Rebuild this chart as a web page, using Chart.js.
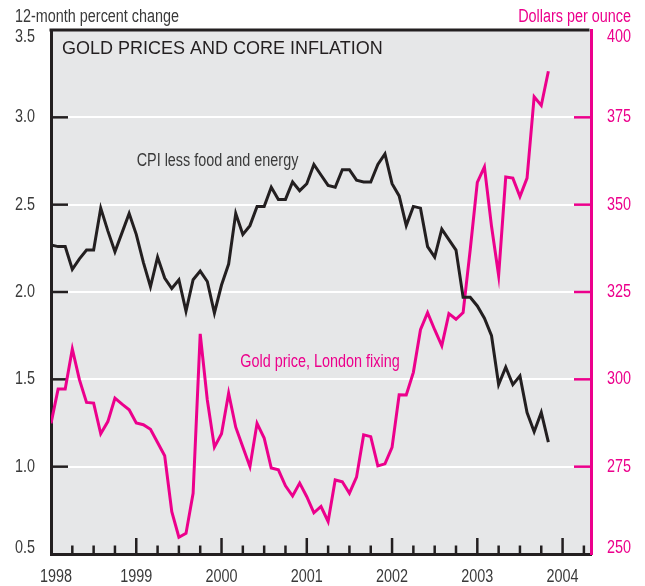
<!DOCTYPE html>
<html><head><meta charset="utf-8">
<script src="https://cdn.jsdelivr.net/npm/chart.js@4.4.0/dist/chart.umd.min.js"></script>
<style>html,body{margin:0;padding:0;background:#fff;}canvas{display:block;}</style>
</head><body>
<canvas id="c" width="645" height="586"></canvas>
<script>
// ---- data ----
const startYear = 1998;                 // first month = Jan 1998
const axisEndMonth = 76;                // axis runs to ~May 2004
const yearTicks = [1998, 1999, 2000, 2001, 2002, 2003, 2004];
const cpiTicks = [0.5, 1.0, 1.5, 2.0, 2.5, 3.0, 3.5];
const goldTicks = [250, 275, 300, 325, 350, 375, 400];

// CPI less food and energy, 12-month percent change, monthly Jan 1998 - Nov 2003
const cpi = [
  2.27, 2.26, 2.26, 2.13, 2.19, 2.24, 2.24, 2.48, 2.35, 2.23, 2.34, 2.45,
  2.33, 2.17, 2.03, 2.20, 2.08, 2.02, 2.07, 1.89, 2.07, 2.12, 2.06, 1.88,
  2.04, 2.16, 2.45, 2.33, 2.38, 2.49, 2.49, 2.60, 2.53, 2.53, 2.63, 2.58,
  2.62, 2.73, 2.67, 2.61, 2.60, 2.70, 2.70, 2.64, 2.63, 2.63, 2.73, 2.79,
  2.62, 2.55, 2.38, 2.49, 2.48, 2.26, 2.20, 2.36, 2.30, 2.24, 1.97, 1.97,
  1.92, 1.85, 1.75, 1.47, 1.57, 1.47, 1.52, 1.31, 1.20, 1.31, 1.14
];

// Gold price, London fixing, dollars per ounce, monthly Jan 1998 - Nov 2003
const gold = [
  287.4, 297.2, 297.2, 308.7, 299.9, 293.4, 293.2, 284.4, 287.9, 294.6, 292.9, 291.3,
  287.5, 287.0, 285.7, 281.9, 278.1, 262.1, 254.8, 255.9, 267.4, 313.0, 294.1, 280.6,
  284.4, 296.0, 286.3, 280.6, 275.0, 287.4, 283.2, 274.6, 274.1, 269.5, 266.6, 270.3,
  266.4, 261.8, 263.6, 259.3, 271.2, 270.7, 267.4, 272.0, 284.1, 283.6, 275.2, 275.8,
  280.5, 295.6, 295.5, 302.0, 314.2, 319.1, 314.2, 309.6, 318.8, 317.2, 319.1, 337.1,
  356.4, 360.8, 343.8, 329.7, 357.9, 357.6, 352.3, 357.6, 380.9, 378.4, 388.2
];

// ---- style ----
const MAG = '#ec008c', DARK = '#231f20', TXT = '#3a3a3a', BG = '#e6e7e8';
const REG = '"Liberation Sans", Arial, sans-serif';
const NARROW_SCALE = 0.8;   // condenses Liberation Sans to a narrow face

const toPoints = arr => arr.map((v, i) => ({ x: i, y: v }));

function narrowText(ctx, s, x, y, align, baseline) {
  ctx.save();
  ctx.translate(x, y);
  ctx.scale(NARROW_SCALE, 1);
  ctx.textAlign = align;
  ctx.textBaseline = baseline || 'alphabetic';
  ctx.fillText(s, 0, 0);
  ctx.restore();
}

const deco = {
  id: 'deco',
  beforeDraw(chart) {
    const { ctx, chartArea: a } = chart;
    ctx.save();
    ctx.fillStyle = BG;
    ctx.fillRect(a.left, a.top, a.right - a.left, a.bottom - a.top);
    ctx.restore();
  },
  beforeDatasetsDraw(chart) {
    const { ctx, chartArea: a, scales } = chart;
    ctx.save();
    ctx.lineWidth = 2.5;
    ctx.lineCap = 'butt';
    ctx.strokeStyle = DARK;
    cpiTicks.slice(1, -1).forEach(v => {
      const y = scales.y.getPixelForValue(v);
      ctx.beginPath(); ctx.moveTo(a.left, y); ctx.lineTo(a.left + 17, y); ctx.stroke();
    });
    ctx.strokeStyle = MAG;
    goldTicks.slice(1, -1).forEach(v => {
      const y = scales.y2.getPixelForValue(v);
      ctx.beginPath(); ctx.moveTo(a.right - 17, y); ctx.lineTo(a.right, y); ctx.stroke();
    });
    ctx.strokeStyle = DARK;
    for (let m = 3; m < axisEndMonth; m += 3) {
      const x = scales.x.getPixelForValue(m);
      const len = (m % 12 === 0) ? 16 : 8.5;
      ctx.beginPath(); ctx.moveTo(x, a.bottom); ctx.lineTo(x, a.bottom - len); ctx.stroke();
    }
    ctx.restore();
  },
  afterDraw(chart) {
    const { ctx, chartArea: a, scales } = chart;
    ctx.save();
    // top frame line
    ctx.strokeStyle = DARK; ctx.lineWidth = 3;
    ctx.beginPath(); ctx.moveTo(a.left - 1.5, a.top); ctx.lineTo(a.right - 1.5, a.top); ctx.stroke();

    ctx.font = '18px ' + REG;
    // y tick labels
    ctx.fillStyle = TXT;
    cpiTicks.forEach((v, i) => {
      let y = scales.y.getPixelForValue(v);
      if (i === 0) y -= 6;
      if (i === cpiTicks.length - 1) y += 7;
      narrowText(ctx, v.toFixed(1), a.left - 16, y, 'right', 'middle');
    });
    ctx.fillStyle = MAG;
    goldTicks.forEach((v, i) => {
      let y = scales.y2.getPixelForValue(v);
      if (i === 0) y -= 6;
      if (i === goldTicks.length - 1) y += 7;
      narrowText(ctx, String(v), a.right + 16, y, 'left', 'middle');
    });
    // x tick labels
    ctx.fillStyle = TXT;
    yearTicks.forEach((yr, i) => {
      let x = scales.x.getPixelForValue((yr - startYear) * 12);
      if (i === 0) x += 5;
      narrowText(ctx, String(yr), x, 581.5, 'center');
    });

    // axis titles
    ctx.fillStyle = TXT;
    narrowText(ctx, '12-month percent change', 15, 22, 'left');
    ctx.fillStyle = MAG;
    narrowText(ctx, 'Dollars per ounce', 631, 22, 'right');

    // chart title
    ctx.fillStyle = DARK;
    ctx.textAlign = 'left';
    ctx.textBaseline = 'alphabetic';
    ctx.fillText('GOLD PRICES AND CORE INFLATION', 62, 53.5);

    // series annotations
    ctx.fillStyle = TXT;
    narrowText(ctx, 'CPI less food and energy', 217.5, 166, 'center');
    ctx.fillStyle = MAG;
    narrowText(ctx, 'Gold price, London fixing', 320, 367, 'center');
    ctx.restore();
  }
};

new Chart(document.getElementById('c'), {
  type: 'line',
  data: {
    datasets: [
      { label: 'CPI less food and energy', data: toPoints(cpi), yAxisID: 'y',
        borderColor: DARK, borderWidth: 3, fill: false },
      { label: 'Gold price, London fixing', data: toPoints(gold), yAxisID: 'y2',
        borderColor: MAG, borderWidth: 3, fill: false }
    ]
  },
  options: {
    responsive: false, animation: false, events: [],
    layout: { padding: { top: 30, left: 0, right: 0, bottom: 0 } },
    plugins: { legend: { display: false }, tooltip: { enabled: false } },
    elements: { point: { radius: 0 }, line: { tension: 0, borderJoinStyle: 'miter', borderCapStyle: 'butt' } },
    scales: {
      x: {
        type: 'linear', min: 0, max: axisEndMonth,
        afterBuildTicks(s) { s.ticks = yearTicks.map(y => ({ value: (y - startYear) * 12 })); },
        afterFit(s) { s.height = 32; },
        grid: { display: false, drawTicks: false },
        border: { display: true, color: DARK, width: 3 },
        ticks: { display: false }
      },
      y: {
        position: 'left', min: 0.5, max: 3.5,
        afterBuildTicks(s) { s.ticks = cpiTicks.map(v => ({ value: v })); },
        afterFit(s) { s.width = 51; },
        grid: { color: c => (c.tick && (c.tick.value === cpiTicks[0] || c.tick.value === cpiTicks[cpiTicks.length - 1])) ? 'rgba(0,0,0,0)' : '#ffffff',
                lineWidth: 2, drawTicks: false },
        border: { display: true, color: DARK, width: 3 },
        ticks: { display: false }
      },
      y2: {
        position: 'right', min: 250, max: 400,
        afterBuildTicks(s) { s.ticks = goldTicks.map(v => ({ value: v })); },
        afterFit(s) { s.width = 54; },
        grid: { display: false, drawTicks: false },
        border: { display: true, color: MAG, width: 3 },
        ticks: { display: false }
      }
    }
  },
  plugins: [deco]
});
</script>
</body></html>
